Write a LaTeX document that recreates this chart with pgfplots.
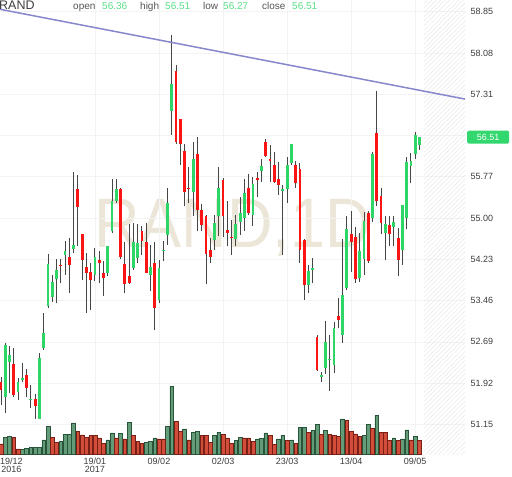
\documentclass[border=0pt]{standalone}
\usepackage{fontspec}
\setmainfont{Liberation Sans}
\usepackage{pgfplots}
\pgfplotsset{compat=1.18}
\usepackage{pgfplotstable}
\usetikzlibrary{patterns.meta}
\definecolor{cgreen}{RGB}{46,214,104}
\definecolor{cred}{RGB}{250,20,20}
\definecolor{wick}{RGB}{70,70,70}
\definecolor{vgreen}{RGB}{100,156,122}
\definecolor{vgreend}{RGB}{40,85,58}
\definecolor{vred}{RGB}{210,78,58}
\definecolor{vredd}{RGB}{120,32,22}
\definecolor{trend}{RGB}{135,135,205}
\definecolor{gridc}{RGB}{243,243,243}
\definecolor{lab}{RGB}{60,60,60}
\definecolor{hdrlab}{RGB}{85,85,85}
\definecolor{hdrval}{RGB}{90,222,135}
\definecolor{wm}{RGB}{235,230,216}
\definecolor{tagc}{RGB}{50,215,110}
\definecolor{hatch}{RGB}{232,232,232}

\pgfplotstableread{
x o h l c
2 51.67 52.67 51.36 52.63
3 52.31 52.61 51.74 52.44
5 51.76 52.02 51.61 51.95
6 51.98 52.30 51.95 52.02
8 51.61 51.89 51.46 51.62
10 51.26 52.48 51.26 52.38
11 52.57 53.23 52.54 52.85
12 53.36 54.33 53.32 54.14
13 53.52 53.94 53.44 53.80
14 53.86 54.24 53.41 54.03
16 54.31 54.57 53.94 54.39
18 54.43 55.85 54.34 54.50
23 53.94 54.44 53.83 54.27
26 53.97 54.48 53.92 54.48
27 54.75 55.72 54.72 55.31
28 55.31 55.72 55.28 55.54
32 54.06 54.91 54.04 54.56
33 54.25 54.89 54.16 54.53
36 53.94 54.50 53.63 54.08
38 53.48 54.22 53.41 54.06
39 54.39 54.58 54.19 54.40
40 54.68 55.57 54.50 55.29
41 57.00 58.41 56.55 57.51
46 55.49 56.41 55.03 56.11
51 54.59 55.06 54.40 54.90
52 55.03 55.95 54.66 55.57
56 54.60 55.06 54.47 54.89
57 54.93 55.40 54.68 55.09
58 55.00 55.72 54.75 55.47
60 55.06 55.77 54.86 55.64
62 55.88 56.11 55.68 55.98
67 55.50 55.62 54.31 55.54
68 55.54 56.14 55.28 55.99
69 56.02 56.39 55.99 56.39
73 53.75 54.13 53.61 54.02
74 54.03 54.25 53.78 54.07
76 52.04 52.13 51.95 52.07
77 52.20 53.08 52.10 52.68
78 52.35 52.82 51.78 52.37
79 52.26 53.07 52.11 52.94
81 52.82 54.60 52.66 53.56
82 53.69 55.03 53.66 54.79
85 53.88 54.73 53.81 54.39
86 54.23 55.12 53.94 54.95
88 55.00 56.24 54.93 56.19
91 54.72 55.03 54.22 54.89
93 54.84 55.03 54.47 54.93
95 54.40 55.24 54.13 55.24
96 55.00 56.14 54.79 56.05
97 55.97 56.21 55.66 56.06
98 56.19 56.61 56.11 56.55
99 56.36 56.51 56.27 56.51
}\greencandles

\pgfplotstableread{
x o h l c
1 51.95 52.04 51.51 51.80
4 52.28 52.58 51.67 51.70
7 52.08 52.18 51.67 51.83
9 51.63 51.71 51.26 51.50
15 54.13 54.23 53.78 54.11
17 54.28 54.63 53.61 54.12
19 55.54 55.80 54.47 55.21
20 54.70 54.70 53.84 54.22
21 54.08 54.34 53.23 53.97
22 53.99 54.16 53.28 53.84
24 54.22 54.39 53.78 54.16
25 53.97 54.19 53.55 53.88
29 55.54 55.56 54.23 54.27
30 54.14 54.56 53.60 53.77
31 53.91 54.89 53.77 53.78
34 54.76 54.85 54.31 54.58
35 54.56 54.90 53.97 53.98
37 54.16 54.56 52.92 53.32
42 57.75 57.86 56.39 56.41
43 56.84 56.84 55.99 56.39
44 56.26 56.39 55.22 55.49
45 55.56 55.95 55.28 55.54
47 56.19 56.52 54.75 55.15
48 55.15 55.26 54.75 54.87
49 55.03 55.06 53.77 54.33
50 54.40 54.62 54.16 54.28
53 55.71 55.74 54.65 55.03
54 54.78 55.31 54.47 54.73
55 54.65 54.96 54.31 54.62
59 55.56 55.82 55.06 55.09
61 55.74 55.86 55.40 55.71
63 56.42 56.47 56.14 56.16
64 56.10 56.36 55.68 56.06
65 55.99 56.24 55.65 55.68
66 55.73 56.05 55.43 55.62
70 55.99 56.07 55.56 55.65
71 55.91 56.02 54.17 54.40
72 54.59 54.60 53.48 53.75
75 52.79 52.82 52.15 52.17
80 53.17 53.50 52.94 53.09
83 54.70 55.13 54.00 54.56
84 54.65 54.84 53.78 53.86
87 55.10 55.13 54.17 54.19
89 56.59 57.37 55.22 55.31
90 55.41 55.57 54.71 54.90
92 54.87 55.03 54.47 54.70
94 54.62 54.81 53.92 54.22
}\redcandles

\pgfplotstableread{
x v
2 17.3
3 18
6 5
7 6.3
8 7.3
9 7.3
10 7.3
11 14.7
12 28.3
15 13
16 20
17 20
18 31.7
26 14.7
27 21.7
29 21.3
31 32.3
35 12.3
36 13
37 16.7
40 28.3
41 68.3
44 25.7
46 22.3
47 23
51 19
52 22.3
56 14
57 17.3
61 15.7
62 16.3
63 21.7
66 15.7
67 19
69 14.7
71 27.3
72 27.3
74 24
75 30
77 24
81 35.7
86 19
87 30
89 39
93 16.7
95 15.7
96 24.7
98 18
}\greenvol

\pgfplotstableread{
x v
1 10.7
4 17.3
5 5.7
13 17.3
14 12.3
19 23
20 19.7
21 17.3
22 19
23 19
24 16.7
25 11.3
28 16.7
30 15.7
32 19
33 13
34 11.3
38 15.7
39 15.7
42 33.3
43 23
45 14.7
48 19
49 19
50 12.3
53 20
54 16.7
55 11.3
58 16.7
59 16.7
60 13
64 19
65 10
68 14
70 11.3
73 22.3
76 20
78 20
79 19
80 18
82 34
83 23.3
84 20.7
85 18
88 26.3
90 22.3
91 22.3
92 14
94 14
97 14.7
99 14
}\redvol

\begin{document}
\begin{tikzpicture}[x=1pt,y=1pt]
\useasboundingbox (0,-22.5) rectangle (512,454.5);
\node[anchor=base, text=wm, inner sep=0pt, font=\fontsize{70}{70}\selectfont, xscale=0.9] at (232.5,206.5) {RAND,1D};
\begin{axis}[
  at={(0,0)}, anchor=south west,
  width=465pt, height=454.5pt, scale only axis,
  xmin=0.766, xmax=109.66, ymin=50.589, ymax=59.068,
  axis line style={draw=none},
  tick style={draw=none},
  major tick length=0pt,
  grid=major,
  major grid style={draw=gridc, line width=0.7pt},
  xtick={23,38,53,68,83,98},
  xticklabels={{19/01\\2017},09/02,02/03,23/03,13/04,09/05},
  xticklabel style={align=center, font=\fontsize{9}{8.5}\selectfont, text=lab, inner sep=0pt, yshift=-3pt},
  extra x ticks={1},
  extra x tick labels={{19/12\\2016}},
  extra x tick style={grid=none, tick label style={anchor=north west, align=left, xshift=-1pt}},
  ytick={51.15,51.92,52.69,53.46,54.23,55.00,55.77,57.31,58.08,58.85},
  extra y ticks={56.54},
  extra y tick labels={},
  extra y tick style={grid=major},
  yticklabel pos=right,
  yticklabel style={anchor=west, inner sep=0pt, xshift=5.5pt, font=\fontsize{9}{10}\selectfont, text=lab,
    /pgf/number format/.cd, fixed, fixed zerofill, precision=2},
  /pgf/number format/assume math mode=true,
  clip=true,
]
\fill[pattern={Lines[angle=45, distance=3.2pt, line width=0.5pt]}, pattern color=hatch] (axis cs:100.1,50.589) rectangle (axis cs:109.66,59.068);
% wicks
\addplot[draw=none, mark=none, forget plot, error bars/.cd, y dir=plus, y explicit, error mark=none,
  error bar style={draw=wick, line width=0.9pt}]
  table[x=x, y=l, y error plus expr=\thisrow{h}-\thisrow{l}] {\greencandles};
\addplot[draw=none, mark=none, forget plot, error bars/.cd, y dir=plus, y explicit, error mark=none,
  error bar style={draw=wick, line width=0.9pt}]
  table[x=x, y=l, y error plus expr=\thisrow{h}-\thisrow{l}] {\redcandles};
% bodies
\addplot[draw=none, mark=none, forget plot, error bars/.cd, y dir=plus, y explicit, error mark=none,
  error bar style={draw=cgreen, line width=2.8pt}]
  table[x=x, y=o, y error plus expr=\thisrow{c}-\thisrow{o}] {\greencandles};
\addplot[draw=none, mark=none, forget plot, error bars/.cd, y dir=plus, y explicit, error mark=none,
  error bar style={draw=cred, line width=2.8pt}]
  table[x=x, y=c, y error plus expr=\thisrow{o}-\thisrow{c}] {\redcandles};
% trend line
\addplot[trend, line width=1.5pt, mark=none] coordinates {(0.766,58.895) (109.66,57.22)};
\coordinate (tagpos) at (axis cs:109.66,56.51);
\end{axis}
\begin{axis}[
  at={(0,0)}, anchor=south west,
  width=465pt, height=454.5pt, scale only axis,
  xmin=0.766, xmax=109.66, ymin=0, ymax=454.5,
  hide axis, ybar, bar width=3.7pt,
]
\addplot[fill=vgreen, draw=vgreend, line width=0.55pt, bar shift=0pt] table[x=x, y=v] {\greenvol};
\addplot[fill=vred, draw=vredd, line width=0.55pt, bar shift=0pt] table[x=x, y=v] {\redvol};
\end{axis}
\node[fill=tagc, text=white, rounded corners=1.5pt, minimum width=42pt, minimum height=13pt, inner sep=0pt,
  anchor=west, font=\fontsize{9}{10}\selectfont] at ([xshift=2pt]tagpos) {56.51};
\node[anchor=base west, inner sep=0pt, text=lab, font=\fontsize{12.5}{13}\selectfont] at (-1,444.5) {RAND};
\begin{scope}[every node/.style={anchor=base west, inner sep=0pt, font=\fontsize{10}{11}\selectfont}]
\node[text=hdrlab] at (73,445.2) {open};
\node[text=hdrval] at (102,445.2) {56.36};
\node[text=hdrlab] at (140,445.2) {high};
\node[text=hdrval] at (165,445.2) {56.51};
\node[text=hdrlab] at (203,445.2) {low};
\node[text=hdrval] at (223,445.2) {56.27};
\node[text=hdrlab] at (262,445.2) {close};
\node[text=hdrval] at (292,445.2) {56.51};
\end{scope}
\end{tikzpicture}
\end{document}
